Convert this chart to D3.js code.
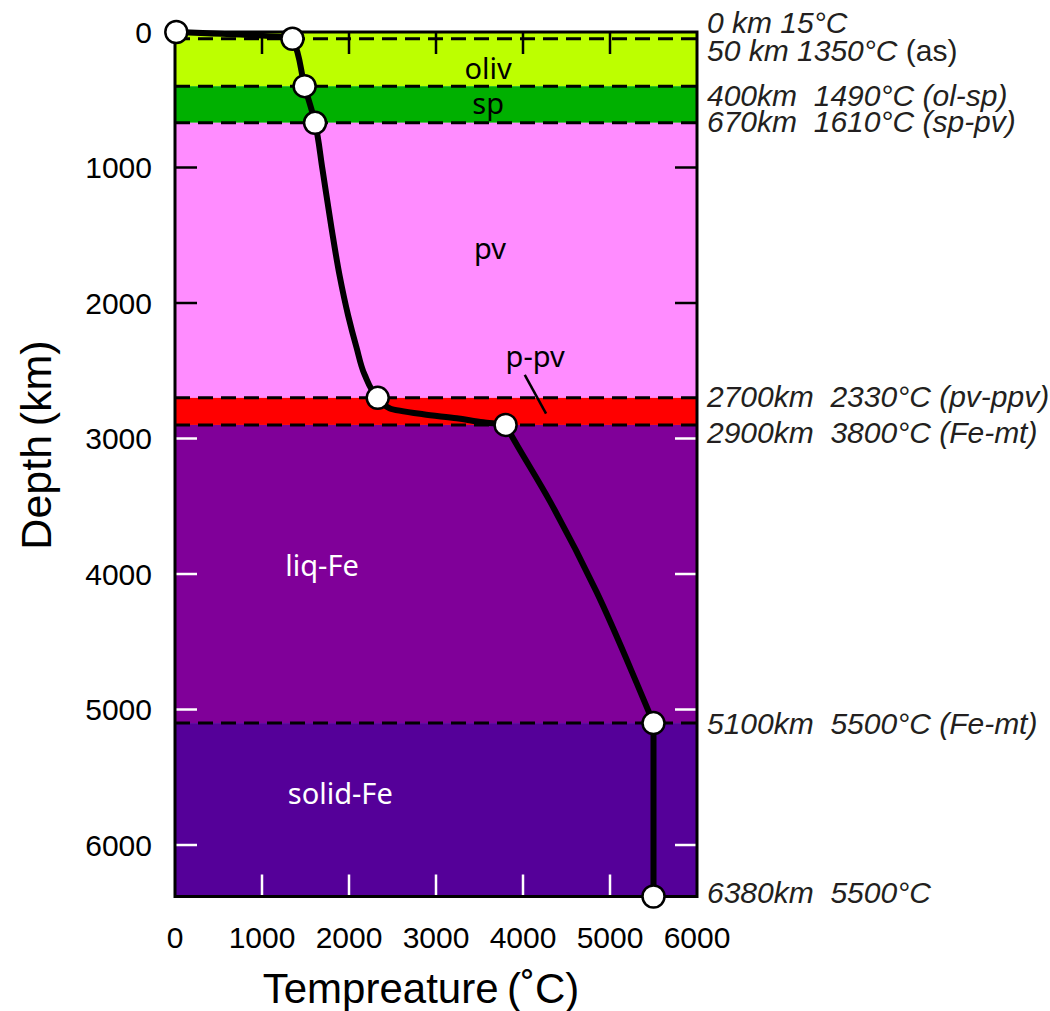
<!DOCTYPE html>
<html>
<head>
<meta charset="utf-8">
<script src="https://cdn.jsdelivr.net/npm/d3@7"></script>
<style>
  html, body { margin: 0; padding: 0; background: #fff; }
  svg { display: block; }
</style>
</head>
<body>
<svg id="chart" width="1050" height="1011"></svg>
<script>
// Geotherm: temperature vs depth through the Earth
// Marked boundary points
const depthKm = [0, 50, 400, 670, 2700, 2900, 5100, 6380];
const tempC   = [15, 1350, 1490, 1610, 2330, 3800, 5500, 5500];

// Continuous temperature profile (km, °C) traced between the boundaries
const profileDepth = [0, 50, 400, 670, 1013, 1451, 1801, 2092, 2325, 2530, 2700,
                      2778, 2821, 2851, 2880, 2900, 2950, 3464, 4134, 4805, 5060, 5100, 6380];
const profileTemp  = [15, 1350, 1490, 1610, 1695, 1800, 1893, 1990, 2085, 2180, 2330,
                      2471, 2854, 3238, 3544, 3800, 3843, 4310, 4847, 5307, 5474, 5500, 5500];

// Boundary annotations (right-hand side)
const noteDepth = [0, 50, 400, 670, 2700, 2900, 5100, 6380];
const noteMain  = ["0 km 15°C", "50 km 1350°C ", "400km  1490°C ", "670km  1610°C ",
                   "2700km  2330°C ", "2900km  3800°C ", "5100km  5500°C ", "6380km  5500°C"];
const noteTag   = ["", "(as)", "(ol-sp)", "(sp-pv)", "(pv-ppv)", "(Fe-mt)", "(Fe-mt)", ""];

// Mineral / phase layers
const layerName   = ["oliv", "sp", "pv", "p-pv", "liq-Fe", "solid-Fe"];
const layerTop    = [0, 400, 670, 2700, 2900, 5100];
const layerBottom = [400, 670, 2700, 2900, 5100, 6380];

// Dashed phase boundaries
const boundaryDepth = [50, 400, 670, 2700, 2900, 5100];

// Axis ticks
const depthTicks = [0, 1000, 2000, 3000, 4000, 5000, 6000];
const tempTicks  = [0, 1000, 2000, 3000, 4000, 5000, 6000];

// ---- styling / layout ----
const layerColor = ["#bdff00", "#00b000", "#ff8cff", "#ff0000", "#800099", "#550099"];
const layerTextColor = ["#000", "#000", "#000", "#000", "#fff", "#fff"];
// label anchor positions in data units [temperature, depth]
const layerLabelPos = [[3600, 265], [3600, 520], [3620, 1590], [4140, 2390], [1690, 3930], [1900, 5610]];
const noteOffset = [1, 22, 20, 9, 9, 18, 11, 6];
const noteItalicTag = [true, false, true, true, true, true, true, true];

const svg = d3.select("#chart");
const x = d3.scaleLinear().domain([0, 6000]).range([175, 697]);
const y = d3.scaleLinear().domain([0, 6380]).range([32, 896.5]);

const plotL = x(0), plotR = x(6000), plotT = y(0), plotB = y(6380);

// layers
const layers = layerName.map((n, i) => ({ name: n, top: layerTop[i], bottom: layerBottom[i], color: layerColor[i] }));
svg.append("g").selectAll("rect").data(layers).join("rect")
  .attr("x", plotL).attr("width", plotR - plotL)
  .attr("y", d => y(d.top)).attr("height", d => y(d.bottom) - y(d.top))
  .attr("fill", d => d.color);

// tick colour: white on dark layers
function tickColorAt(depth) {
  const i = layers.findIndex(l => depth >= l.top && depth <= l.bottom);
  return (i >= 4) ? "#fff" : "#000";
}
const tickLen = 22;

// left & right inner ticks
const innerDepthTicks = depthTicks.filter(d => d > 0);
svg.append("g").selectAll("line.l").data(innerDepthTicks).join("line")
  .attr("x1", plotL).attr("x2", plotL + tickLen)
  .attr("y1", d => y(d)).attr("y2", d => y(d))
  .attr("stroke", d => tickColorAt(d)).attr("stroke-width", 2.5);
svg.append("g").selectAll("line.r").data(innerDepthTicks).join("line")
  .attr("x1", plotR).attr("x2", plotR - tickLen)
  .attr("y1", d => y(d)).attr("y2", d => y(d))
  .attr("stroke", d => tickColorAt(d)).attr("stroke-width", 2.5);

// top & bottom inner ticks
const innerTempTicks = tempTicks.filter(t => t > 0 && t < 6000);
svg.append("g").selectAll("line.t").data(innerTempTicks).join("line")
  .attr("x1", d => x(d)).attr("x2", d => x(d))
  .attr("y1", plotT).attr("y2", plotT + tickLen)
  .attr("stroke", "#000").attr("stroke-width", 2.5);
svg.append("g").selectAll("line.b").data(innerTempTicks).join("line")
  .attr("x1", d => x(d)).attr("x2", d => x(d))
  .attr("y1", plotB).attr("y2", plotB - tickLen)
  .attr("stroke", tickColorAt(6380)).attr("stroke-width", 2.5);

// dashed boundaries
svg.append("g").selectAll("line").data(boundaryDepth).join("line")
  .attr("x1", plotL).attr("x2", plotR)
  .attr("y1", d => y(d)).attr("y2", d => y(d))
  .attr("stroke", "#000").attr("stroke-width", 3)
  .attr("stroke-dasharray", "15,8");

// frame
svg.append("rect")
  .attr("x", plotL).attr("y", plotT)
  .attr("width", plotR - plotL).attr("height", plotB - plotT)
  .attr("fill", "none").attr("stroke", "#000").attr("stroke-width", 3);

// layer labels
svg.append("g").selectAll("text").data(layers).join("text")
  .attr("x", (d, i) => x(layerLabelPos[i][0]))
  .attr("y", (d, i) => y(layerLabelPos[i][1]))
  .attr("text-anchor", "middle").attr("dominant-baseline", "central")
  .attr("font-family", "'Comic Sans MS', 'Noto Sans', sans-serif")
  .attr("font-size", 29)
  .attr("fill", (d, i) => layerTextColor[i])
  .text(d => d.name);

// p-pv leader line
svg.append("line")
  .attr("x1", x(4020)).attr("y1", y(2530))
  .attr("x2", x(4265)).attr("y2", y(2816))
  .attr("stroke", "#000").attr("stroke-width", 2.5);

// geotherm curve (depth is monotonic, so interpolate x as a function of y)
const profile = profileDepth.map((d, i) => ({ depth: d, temp: profileTemp[i] }));
const line = d3.line()
  .x(d => x(d.temp)).y(d => y(d.depth))
  .curve(d3.curveMonotoneY);
svg.append("path").datum(profile)
  .attr("d", line)
  .attr("fill", "none").attr("stroke", "#000").attr("stroke-width", 6)
  .attr("stroke-linejoin", "round");

const pts = depthKm.map((d, i) => ({ depth: d, temp: tempC[i] }));
svg.append("g").selectAll("circle").data(pts).join("circle")
  .attr("cx", d => x(d.temp)).attr("cy", d => y(d.depth))
  .attr("r", 11).attr("fill", "#fff").attr("stroke", "#000").attr("stroke-width", 2.5);

// axis tick labels
const tickFont = "'Liberation Sans Narrow', 'Liberation Sans', Arial, sans-serif";
svg.append("g").selectAll("text").data(depthTicks).join("text")
  .attr("x", 152).attr("y", d => y(d))
  .attr("text-anchor", "end").attr("dominant-baseline", "central")
  .attr("font-family", tickFont).attr("font-size", 30)
  .attr("fill", "#000")
  .text(d => d);
svg.append("g").selectAll("text").data(tempTicks).join("text")
  .attr("x", d => x(d)).attr("y", 948)
  .attr("text-anchor", "middle")
  .attr("font-family", tickFont).attr("font-size", 30)
  .attr("fill", "#000")
  .text(d => d);

// axis titles
svg.append("text")
  .attr("transform", "translate(51,445) rotate(-90)")
  .attr("text-anchor", "middle")
  .attr("font-family", "'Liberation Sans', Arial, sans-serif")
  .attr("font-size", 43).attr("fill", "#000")
  .text("Depth\u2009(km)");
svg.append("text")
  .attr("x", 421).attr("y", 1003)
  .attr("text-anchor", "middle")
  .attr("font-family", "'Liberation Sans', Arial, sans-serif")
  .attr("font-size", 42).attr("fill", "#000")
  .text("Tempreature\u2009(˚C)");

// boundary annotations (non-breaking spaces keep the double gaps)
const notes = svg.append("g")
  .attr("font-family", "'Liberation Sans', Arial, sans-serif")
  .attr("font-size", 30).attr("fill", "#231f20");
const nb = s => s.replace(/ /g, "\u00a0");
noteDepth.forEach((d, i) => {
  const t = notes.append("text")
    .attr("x", 707).attr("y", y(d) + noteOffset[i]);
  t.append("tspan").attr("font-style", "italic").text(nb(noteMain[i]));
  if (noteTag[i]) {
    t.append("tspan").attr("font-style", noteItalicTag[i] ? "italic" : "normal").text(noteTag[i]);
  }
});
</script>
</body>
</html>
